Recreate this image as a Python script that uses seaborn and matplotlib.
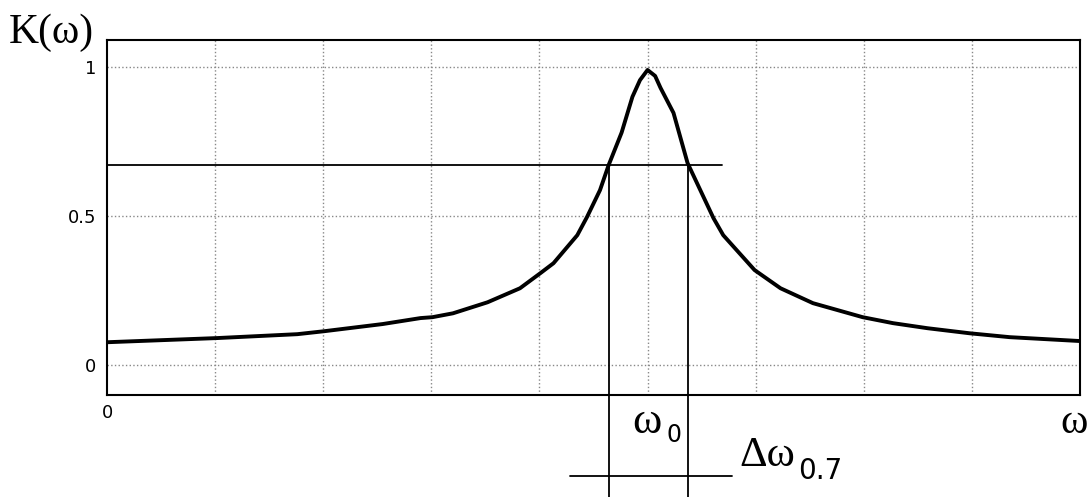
import matplotlib
matplotlib.use('Agg')
import matplotlib.pyplot as plt
import pandas as pd
import seaborn as sns

# curve points (omega in grid units, K value)
omega = [0.0, 1.02, 1.76, 2.01, 2.55, 2.9, 3.01, 3.2, 3.52, 3.82, 4.01, 4.13, 4.35, 4.44,
         4.56, 4.64, 4.76, 4.86, 4.93, 5.0, 5.07, 5.12, 5.24, 5.37, 5.61, 5.7, 5.99, 6.23,
         6.53, 6.99, 7.27, 7.59, 7.98, 8.35, 9.0]
k_val = [0.077, 0.091, 0.104, 0.114, 0.138, 0.158, 0.161, 0.174, 0.211, 0.258, 0.309, 0.342,
         0.436, 0.497, 0.587, 0.671, 0.78, 0.9, 0.956, 0.99, 0.97, 0.93, 0.846, 0.678, 0.493,
         0.436, 0.319, 0.258, 0.208, 0.161, 0.141, 0.124, 0.107, 0.094, 0.081]

y_ticks = [0, 0.5, 1]
y_tick_labels = ['0', '0.5', '1']
level_07 = 0.671
band_lo, band_hi = 4.64, 5.37

df = pd.DataFrame({'omega': omega, 'K': k_val})

sns.set_style('white')
plt.rcParams['font.family'] = ['Liberation Serif', 'DejaVu Serif']
plt.rcParams['text.color'] = 'black'
plt.rcParams['ytick.color'] = 'black'

fig = plt.figure(figsize=(10.92, 4.97), dpi=100)
ax = fig.add_axes([0.098, 0.2052, 0.891, 0.714])

sns.lineplot(data=df, x='omega', y='K', ax=ax, color='black', linewidth=2.8)

ax.set_xlim(0, 9)
ax.set_ylim(-0.1, 1.09)
ax.set_xticks(range(1, 9))
ax.set_xticklabels([])
ax.set_yticks(y_ticks)
ax.set_yticklabels(y_tick_labels, fontsize=13, family='DejaVu Sans', color='black')
ax.tick_params(length=0, pad=8)
ax.grid(True, color='#888888', linestyle=':', linewidth=1)
ax.set_xlabel('')
ax.set_ylabel('')
for s in ax.spines.values():
    s.set_color('black')
    s.set_linewidth(1.5)

# 0.7 level and band lines
ax.plot([0, 5.69], [level_07, level_07], color='black', lw=1.3)
for xv in (band_lo, band_hi):
    ax.plot([xv, xv], [level_07, -0.45], color='black', lw=1.3, clip_on=False)
ax.plot([4.28, 5.78], [-0.372, -0.372], color='black', lw=1.3, clip_on=False)

ax.text(0, -0.13, '0', ha='center', va='top', fontsize=13, family='DejaVu Sans')
fig.text(0.984, 0.15, 'ω', ha='center', va='center', fontsize=30)
fig.text(0.008, 0.935, 'K(ω)', ha='left', va='center', fontsize=30)
# omega_0 label
ax.text(4.99, -0.19, 'ω', ha='center', va='center', fontsize=32)
ax.text(5.24, -0.235, '0', ha='center', va='center', fontsize=17, family='DejaVu Sans')
# delta omega 0.7 label
ax.text(5.85, -0.305, 'Δω', ha='left', va='center', fontsize=31)
ax.text(6.39, -0.355, '0.7', ha='left', va='center', fontsize=20, family='DejaVu Sans')

fig.savefig('out.png', dpi=100)
